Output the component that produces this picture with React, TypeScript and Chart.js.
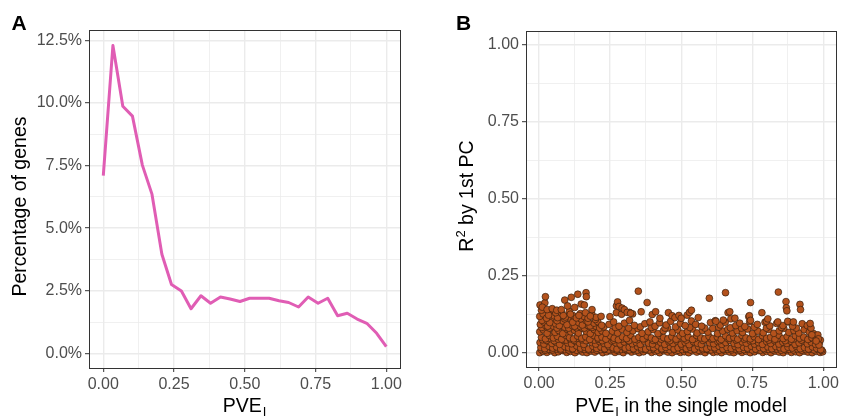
import React, { useEffect, useRef } from "react";
import { Chart, registerables } from "chart.js";

Chart.register(...registerables);

const FONT = '"Liberation Sans", Arial, Helvetica, sans-serif';

// Panel A: percentage of genes in each PVE bin
const pveBins = [
  0.0, 0.034, 0.069, 0.103, 0.138, 0.172, 0.207, 0.241, 0.276, 0.31, 0.345, 0.379, 0.414, 0.448, 0.483,
  0.517, 0.552, 0.586, 0.621, 0.655, 0.69, 0.724, 0.759, 0.793, 0.828, 0.862, 0.897, 0.931, 0.966, 1.0,
];
const geneShare = [
  7.1, 12.3, 9.87, 9.48, 7.52, 6.36, 3.96, 2.75, 2.49, 1.78, 2.3, 2.0, 2.25, 2.17, 2.07,
  2.2, 2.2, 2.2, 2.1, 2.03, 1.85, 2.25, 2.0, 2.2, 1.5, 1.6, 1.37, 1.2, 0.8, 0.27,
];
const shareTicks = [0, 2.5, 5, 7.5, 10, 12.5];
const shareMinor = [1.25, 3.75, 6.25, 8.75, 11.25];

// Shared 0..1 axis ticks
const unitTicks = [0, 0.25, 0.5, 0.75, 1];
const unitMinor = [0.125, 0.375, 0.625, 0.875];

// Panel B: genes as [PVE in the single model, R² by 1st PC], both in thousandths
const lowBand: [number, number][] = [
  [2,0],[14,4],[27,1],[41,6],[55,0],[68,3],[83,7],[97,1],[110,4],[126,0],[139,6],[153,2],[168,0],[181,5],[196,2],[210,7],[224,0],[238,3],[253,6],[267,1],[281,4],[296,0],[310,7],[325,2],[339,5],[352,0],[367,3],[381,8],[396,1],[410,4],[424,0],[439,6],[453,2],[468,0],[482,5],[497,1],[511,3],[526,0],[540,6],[555,2],[569,4],[584,0],[598,7],[613,1],[627,3],[642,0],[656,5],[671,2],[685,0],[700,6],[714,1],[729,4],[743,0],[758,3],[772,7],[787,1],[801,4],[816,0],[830,5],[845,2],[859,0],[874,6],[888,1],[903,3],[917,0],[932,5],[946,2],[961,0],[975,4],[989,1],[998,3],
  [8,10],[21,8],[34,11],[48,9],[62,12],[76,8],[90,10],[104,9],[117,12],[132,8],[146,10],[160,11],[175,9],[189,12],[203,8],[217,10],[231,11],[245,9],[260,12],[274,8],[288,10],[303,11],[317,9],[332,12],[346,8],[360,10],[374,11],[388,9],[403,12],[417,8],[431,10],[446,11],[460,9],[475,12],[489,8],[504,10],[518,11],[533,9],[547,12],[562,8],[576,10],[591,11],[605,9],[620,12],[634,8],[649,10],[663,11],[678,9],[692,12],[707,8],[721,10],[736,11],[750,9],[765,12],[779,8],[794,10],[808,11],[823,9],[837,12],[852,8],[866,10],[881,11],[895,9],[910,12],[924,8],[939,10],[953,11],[968,9],[982,12],[995,8],
  [6,17],[20,13],[34,21],[48,15],[61,19],[76,12],[90,20],[104,16],[118,13],[132,22],[146,15],[160,18],[174,12],[189,21],[203,14],[217,19],[231,13],[246,20],[260,16],[274,12],[289,22],[303,15],[317,18],[332,13],[346,20],[360,15],[375,12],[389,19],[403,16],[418,22],[432,13],[446,17],[461,20],[475,12],[489,16],[504,21],[518,14],[532,18],[547,12],[561,20],[575,15],[590,13],[604,19],[618,16],[633,21],[647,12],[661,17],[676,14],[690,20],[704,13],[719,18],[733,15],[747,21],[762,12],[776,17],[790,14],[805,19],[819,13],[833,20],[848,16],[862,12],[876,18],[891,15],[905,21],[919,13],[934,17],[948,12],[962,19],[977,14],[991,10],
  [3,33],[17,28],[30,38],[45,30],[58,35],[72,27],[86,40],[100,32],[114,29],[128,37],[142,31],[157,27],[171,39],[185,33],[199,28],[213,36],[228,30],[242,26],[256,38],[270,32],[285,28],[299,35],[313,40],[328,29],[342,33],[356,27],[371,37],[385,31],[399,28],[414,39],[428,33],[442,27],[457,35],[471,30],[485,38],[500,28],[514,33],[528,26],[543,36],[557,31],[571,27],[586,38],[600,32],[614,29],[629,36],[643,27],[657,33],[672,39],[686,30],[700,26],[715,35],[729,31],[743,38],[758,28],[772,33],[786,27],[801,36],[815,30],[829,39],[844,28],[858,34],[872,30],[887,37],[901,27],[915,32],[930,38],[944,29],[958,34],[973,27],[986,32],
  [12,42],[26,40],[40,46],[53,39],[67,44],[81,47],[95,41],[109,45],[123,40],[137,47],[151,42],[165,39],[180,46],[194,41],[208,44],[222,39],[236,47],[262,41],[290,44],[316,39],[345,42],[372,46],[401,40],[430,44],[460,39],[489,45],[518,41],[548,46],[576,40],[606,44],[635,39],[664,46],[693,41],[722,44],[752,39],[780,46],[808,41],[838,45],[866,39],[895,44],[923,41],[952,46],[980,40],
  [8,50],[22,45],[36,56],[50,48],[64,53],[79,44],[93,57],[107,49],[121,45],[135,54],[150,47],[164,52],[178,43],[192,56],[207,48],[221,51],[235,44],[250,55],[264,47],[279,42],[293,52],[308,46],[322,57],[337,44],[351,50],[366,45],[380,54],[395,48],[409,43],[424,56],[438,49],[453,45],[467,52],[482,44],[496,55],[511,47],[525,51],[540,43],[554,56],[569,48],[583,45],[598,53],[612,46],[627,51],[641,43],[656,55],[670,47],[685,50],[699,44],[714,56],[728,48],[743,45],[757,52],[772,43],[786,55],[801,47],[815,50],[830,44],[844,57],[859,46],[873,52],[888,44],[902,55],[917,47],[931,51],[946,43],[960,49],[975,45],[990,41],
];
const midBand: [number, number][] = [
  [2,68],[15,74],[28,63],[42,79],[56,66],[69,72],[83,62],[97,77],[111,68],[124,73],[138,64],[152,79],[166,69],[180,62],[194,75],[208,66],[221,71],[235,63],
  [258,70],[276,64],[292,76],[309,66],[330,71],[348,78],[362,63],[384,68],[401,75],[418,62],[437,71],[452,80],[470,66],[488,74],[505,63],[522,69],[540,77],[556,64],[575,72],[594,67],[611,79],[628,62],[646,70],[664,76],[680,64],[697,71],[716,66],[734,77],[751,62],[770,70],[789,65],[808,75],[826,63],[845,71],[861,79],[879,66],[897,72],[914,64],[933,75],[951,67],[966,62],[981,58],
  [9,82],[23,88],[36,80],[50,86],[63,80],[77,88],[90,83],[104,80],[118,87],[131,81],[145,85],[159,80],[172,88],[186,82],[200,86],[213,80],[228,84],[268,82],[315,80],[356,84],[395,82],[443,80],[480,84],[530,82],[583,80],[632,83],[673,81],[712,80],[757,83],[800,80],[853,82],[905,80],
  [4,92],[16,100],[30,86],[44,106],[58,94],[71,88],[84,103],[98,91],[112,108],[125,86],[139,98],[152,90],[165,104],[179,87],[193,96],[206,101],[220,89],
  [10,105],[37,98],[63,104],[90,110],[118,99],[146,110],[172,100],[198,108],
  [246,92],[262,100],[281,86],[300,96],[318,105],[335,89],[372,94],[390,100],[408,86],[424,97],[447,90],[463,102],[497,95],[514,88],[536,103],[551,92],[572,86],[603,98],[620,104],[638,90],[655,99],[692,88],[706,96],[724,85],[741,101],[768,92],[795,99],[812,87],[836,95],[858,88],[877,100],[892,86],[926,94],[944,88],[957,80],
];
const highBand: [number, number][] = [
  [2,118],[14,126],[26,112],[38,132],[52,120],[65,114],[79,128],[92,116],[106,134],[118,121],[131,113],[145,127],[158,118],[172,112],[186,124],[200,115],[218,118],[249,117],[272,130],[290,125],[318,131],[329,126],[359,133],[398,124],[410,133],[425,112],[455,130],[468,120],[478,114],[492,121],[500,112],[521,122],[529,131],[560,114],[622,102],[648,106],[665,130],[671,133],[675,110],[689,112],[738,117],[740,120],[744,105],[784,130],[800,102],[805,110],[840,100],[875,102],[895,100],[954,95],
  [8,138],[33,122],[58,130],[85,121],[110,125],[140,121],[163,130],[180,119],
  [3,155],[20,162],[11,148],[22,182],[28,140],[46,143],[62,138],[78,140],[90,171],[100,152],[113,180],[125,147],[136,190],[148,158],[159,155],[165,195],[166,182],[186,140],[272,152],[276,165],[281,150],[292,145],[300,140],[310,131],[322,128],[349,200],[380,163],[536,138],[599,177],[656,195],[744,163],[842,197],[869,166],[870,146],[872,136],[918,157],[920,140],[983,45],[985,25],[975,38],[960,58],
];

const GRID = "#EBEBEB";
const FRAME = "#333333";
const TICK_TEXT = "#4D4D4D";

const near = (list: number[], v: number) => list.some((m) => Math.abs(m - v) < 1e-6);

function linearAxis(
  min: number,
  max: number,
  majors: number[],
  minors: number[],
  fmt: (v: number) => string,
  fit: (s: any) => void
) {
  return {
    type: "linear",
    min,
    max,
    border: { display: false },
    afterBuildTicks: (scale: any) => {
      scale.ticks = [...majors, ...minors].sort((a, b) => a - b).map((value) => ({ value }));
    },
    afterFit: fit,
    grid: {
      color: GRID,
      lineWidth: (c: any) => (near(majors, c.tick.value) ? 1.4 : 0.75),
      tickColor: (c: any) => (near(majors, c.tick.value) ? FRAME : "rgba(0,0,0,0)"),
      tickLength: 4,
      tickWidth: 1,
    },
    ticks: {
      autoSkip: false,
      maxRotation: 0,
      minRotation: 0,
      padding: 3,
      color: TICK_TEXT,
      font: { family: FONT, size: 16 },
      callback: (v: number) => (near(majors, v) ? fmt(v) : ""),
    },
  };
}

// draws "PVE" with a subscript, optionally followed by more text, centred on cx
function drawPveTitle(ctx: CanvasRenderingContext2D, cx: number, baseline: number, rest: string) {
  const big = `19.5px ${FONT}`;
  const small = `13px ${FONT}`;
  ctx.font = big;
  const w1 = ctx.measureText("PVE").width;
  const w3 = rest ? ctx.measureText(rest).width : 0;
  ctx.font = small;
  const w2 = ctx.measureText("I").width;
  const total = w1 + 1 + w2 + w3;
  let x = cx - total / 2;
  ctx.textAlign = "left";
  ctx.textBaseline = "alphabetic";
  ctx.fillStyle = "#000";
  ctx.font = big;
  ctx.fillText("PVE", x, baseline);
  x += w1 + 1;
  ctx.font = small;
  ctx.fillText("I", x, baseline + 4);
  x += w2;
  if (rest) {
    ctx.font = big;
    ctx.fillText(rest, x, baseline);
  }
}

const framePlugin = {
  id: "panelFrame",
  beforeDraw(chart: any) {
    const { ctx, width, height } = chart;
    ctx.save();
    ctx.fillStyle = "#fff";
    ctx.fillRect(0, 0, width, height);
    ctx.restore();
  },
  afterDraw(chart: any) {
    const { ctx, chartArea: a } = chart;
    ctx.save();
    ctx.strokeStyle = FRAME;
    ctx.lineWidth = 1;
    ctx.strokeRect(Math.round(a.left) + 0.5, Math.round(a.top) + 0.5, Math.round(a.right - a.left), Math.round(a.bottom - a.top));
    ctx.restore();
  },
};

function makeTitles(letter: string, letterX: number, draw: (ctx: CanvasRenderingContext2D, chart: any) => void) {
  return {
    id: "titles" + letter,
    afterDraw(chart: any) {
      const ctx: CanvasRenderingContext2D = chart.ctx;
      ctx.save();
      ctx.fillStyle = "#000";
      ctx.font = `bold 21px ${FONT}`;
      ctx.textAlign = "left";
      ctx.textBaseline = "alphabetic";
      ctx.fillText(letter, letterX, 30);
      draw(ctx, chart);
      ctx.restore();
    },
  };
}

function PanelA() {
  const ref = useRef<HTMLCanvasElement>(null);
  useEffect(() => {
    const titles = makeTitles("A", 11.5, (ctx, chart) => {
      const a = chart.chartArea;
      drawPveTitle(ctx, (a.left + a.right) / 2, 412, "");
      ctx.save();
      ctx.translate(25.5, 206.5);
      ctx.rotate(-Math.PI / 2);
      ctx.textAlign = "center";
      ctx.font = `19.5px ${FONT}`;
      ctx.fillStyle = "#000";
      ctx.fillText("Percentage of genes", 0, 0);
      ctx.restore();
    });
    const chart = new Chart(ref.current!, {
      type: "line",
      data: {
        datasets: [
          {
            data: pveBins.map((x, i) => ({ x, y: geneShare[i] })),
            borderColor: "#E05DB4",
            borderWidth: 3,
            pointRadius: 0,
            tension: 0,
            borderJoinStyle: "round",
            fill: false,
          },
        ],
      },
      options: {
        responsive: false,
        animation: false,
        events: [],
        layout: { padding: { left: 0, right: 21, top: 30, bottom: 0 } },
        plugins: { legend: { display: false }, tooltip: { enabled: false } },
        scales: {
          x: linearAxis(-0.0505, 1.0484, unitTicks, unitMinor, (v) => v.toFixed(2), (s) => {
            s.height = 49;
          }),
          y: linearAxis(-0.5875, 12.92, shareTicks, shareMinor, (v) => v.toFixed(1) + "%", (s) => {
            s.width = 89;
          }),
        },
      } as any,
      plugins: [framePlugin, titles],
    });
    return () => chart.destroy();
  }, []);
  return <canvas ref={ref} width={421} height={417} style={{ position: "absolute", left: 0, top: 0, display: "block" }} />;
}

function PanelB() {
  const ref = useRef<HTMLCanvasElement>(null);
  useEffect(() => {
    const titles = makeTitles("B", 35, (ctx, chart) => {
      const a = chart.chartArea;
      drawPveTitle(ctx, (a.left + a.right) / 2, 412, " in the single model");
      // rotated y title with a superscript
      const big = `19.5px ${FONT}`;
      const small = `13px ${FONT}`;
      ctx.save();
      ctx.translate(52, 196);
      ctx.rotate(-Math.PI / 2);
      ctx.fillStyle = "#000";
      ctx.textAlign = "left";
      ctx.font = big;
      const wR = ctx.measureText("R").width;
      const wRest = ctx.measureText(" by 1st PC").width;
      ctx.font = small;
      const w2 = ctx.measureText("2").width;
      let x = -(wR + w2 + wRest) / 2;
      ctx.font = big;
      ctx.fillText("R", x, 0);
      x += wR;
      ctx.font = small;
      ctx.fillText("2", x, -8);
      x += w2;
      ctx.font = big;
      ctx.fillText(" by 1st PC", x, 0);
      ctx.restore();
    });
    const pts = [...lowBand, ...midBand, ...highBand].map(([x, y]) => ({ x: x / 1000, y: y / 1000 }));
    const chart = new Chart(ref.current!, {
      type: "scatter",
      data: {
        datasets: [
          {
            data: pts,
            pointRadius: 3.4,
            pointBorderWidth: 0.7,
            pointBorderColor: "#3A2110",
            pointBackgroundColor: "#B4521C",
          },
        ],
      },
      options: {
        responsive: false,
        animation: false,
        events: [],
        layout: { padding: { left: 0, right: 3, top: 31, bottom: 0 } },
        plugins: { legend: { display: false }, tooltip: { enabled: false } },
        scales: {
          x: linearAxis(-0.0464, 1.0453, unitTicks, unitMinor, (v) => v.toFixed(2), (s) => {
            s.height = 50;
          }),
          y: linearAxis(-0.0465, 1.0455, unitTicks, unitMinor, (v) => v.toFixed(2), (s) => {
            s.width = 105;
          }),
        },
      } as any,
      plugins: [framePlugin, titles],
    });
    return () => chart.destroy();
  }, []);
  return <canvas ref={ref} width={421} height={417} style={{ position: "absolute", left: 421, top: 0, display: "block" }} />;
}

export default function App() {
  return (
    <div style={{ position: "absolute", left: 0, top: 0, width: 842, height: 417, background: "#fff" }}>
      <PanelA />
      <PanelB />
    </div>
  );
}
